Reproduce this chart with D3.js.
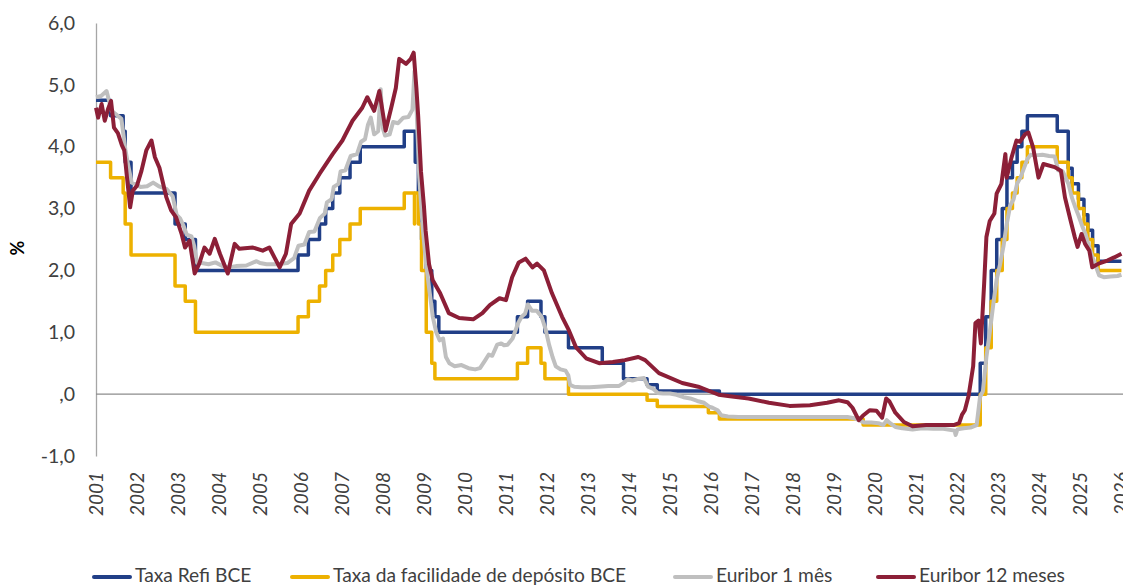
<!DOCTYPE html>
<html><head><meta charset="utf-8">
<script src="https://cdn.jsdelivr.net/npm/d3@7"></script>
<style>
body{margin:0;background:#fff}
svg{display:block}
text{font-family:Lato,"Open Sans","DejaVu Sans",sans-serif}
</style>
</head><body>
<svg id="chart" width="1123" height="587"></svg>
<script>
// ---------- DATA ----------
const yearTicks = d3.range(2001, 2027);
const yTicks = [-1, 0, 1, 2, 3, 4, 5, 6];
const seriesNames = ["Taxa Refi BCE", "Taxa da facilidade de depósito BCE", "Euribor 1 mês", "Euribor 12 meses"];
const seriesColors = ["#213F87", "#EDB100", "#BFBFBF", "#8C1F37"];

// ECB main refinancing rate (change dates, new level)
const refiSteps = [
 ["2001-01-01",4.75],["2001-05-11",4.50],["2001-08-31",4.25],["2001-09-18",3.75],["2001-11-09",3.25],
 ["2002-12-06",2.75],["2003-03-07",2.50],["2003-06-06",2.00],["2005-12-06",2.25],["2006-03-08",2.50],
 ["2006-06-15",2.75],["2006-08-09",3.00],["2006-10-11",3.25],["2006-12-13",3.50],["2007-03-14",3.75],
 ["2007-06-13",4.00],["2008-07-09",4.25],["2008-10-15",3.75],["2008-11-12",3.25],["2008-12-10",2.50],
 ["2009-01-21",2.00],["2009-03-11",1.50],["2009-04-08",1.25],["2009-05-13",1.00],["2011-04-13",1.25],
 ["2011-07-13",1.50],["2011-11-09",1.25],["2011-12-14",1.00],["2012-07-11",0.75],["2013-05-08",0.50],
 ["2013-11-13",0.25],["2014-06-11",0.15],["2014-09-10",0.05],["2016-03-16",0.00],["2022-07-27",0.50],
 ["2022-09-14",1.25],["2022-11-02",2.00],["2022-12-21",2.50],["2023-02-08",3.00],["2023-03-22",3.50],
 ["2023-05-10",3.75],["2023-06-21",4.00],["2023-08-02",4.25],["2023-09-20",4.50],["2024-06-12",4.25],
 ["2024-09-18",3.65],["2024-10-23",3.40],["2024-12-18",3.15],["2025-02-05",2.90],["2025-03-12",2.65],
 ["2025-04-23",2.40],["2025-06-11",2.15],["2026-01-05",2.15]
];

// ECB deposit facility rate (change dates, new level)
const depoSteps = [
 ["2001-01-01",3.75],["2001-05-11",3.50],["2001-08-31",3.25],["2001-09-18",2.75],["2001-11-09",2.25],
 ["2002-12-06",1.75],["2003-03-07",1.50],["2003-06-06",1.00],["2005-12-06",1.25],["2006-03-08",1.50],
 ["2006-06-15",1.75],["2006-08-09",2.00],["2006-10-11",2.25],["2006-12-13",2.50],["2007-03-14",2.75],
 ["2007-06-13",3.00],["2008-07-09",3.25],["2008-10-08",2.75],["2008-10-09",3.25],["2008-11-12",2.75],
 ["2008-12-10",2.00],["2009-01-21",1.00],["2009-03-11",0.50],["2009-04-08",0.25],["2011-04-13",0.50],
 ["2011-07-13",0.75],["2011-11-09",0.50],["2011-12-14",0.25],["2012-07-11",0.00],["2014-06-11",-0.10],
 ["2014-09-10",-0.20],["2015-12-09",-0.30],["2016-03-16",-0.40],["2019-09-18",-0.50],["2022-07-27",0.00],
 ["2022-09-14",0.75],["2022-11-02",1.50],["2022-12-21",2.00],["2023-02-08",2.50],["2023-03-22",3.00],
 ["2023-05-10",3.25],["2023-06-21",3.50],["2023-08-02",3.75],["2023-09-20",4.00],["2024-06-12",3.75],
 ["2024-09-18",3.50],["2024-10-23",3.25],["2024-12-18",3.00],["2025-02-05",2.75],["2025-03-12",2.50],
 ["2025-04-23",2.25],["2025-06-11",2.00],["2026-01-05",2.00]
];

// Euribor 1 month
const euribor1m = [
 ["2001-01-01",4.80],["2001-02-15",4.82],["2001-04-05",4.90],["2001-05-20",4.58],["2001-07-01",4.52],
 ["2001-08-15",4.45],["2001-09-20",3.95],["2001-10-15",3.70],["2001-11-15",3.42],["2001-12-15",3.40],
 ["2002-02-01",3.35],["2002-04-01",3.36],["2002-05-25",3.42],["2002-07-15",3.36],["2002-09-20",3.32],
 ["2002-11-15",3.20],["2002-12-20",2.90],["2003-01-20",2.84],["2003-02-20",2.72],["2003-03-20",2.58],
 ["2003-05-01",2.55],["2003-05-25",2.40],["2003-06-20",2.12],["2003-08-01",2.12],["2003-10-01",2.10],
 ["2003-12-01",2.13],["2004-02-01",2.07],["2004-04-01",2.05],["2004-06-01",2.07],["2004-09-01",2.08],
 ["2004-12-01",2.15],["2005-01-01",2.12],["2005-03-01",2.10],["2005-06-01",2.10],["2005-09-01",2.12],
 ["2005-11-01",2.20],["2005-12-10",2.40],["2006-02-01",2.42],["2006-03-15",2.62],["2006-05-01",2.63],
 ["2006-06-20",2.85],["2006-08-01",2.92],["2006-08-20",3.10],["2006-10-01",3.15],["2006-10-20",3.35],
 ["2006-12-01",3.40],["2006-12-20",3.60],["2007-02-01",3.62],["2007-03-20",3.85],["2007-05-15",3.88],
 ["2007-06-20",4.08],["2007-07-25",4.12],["2007-08-20",4.35],["2007-09-15",4.47],["2007-10-15",4.20],
 ["2007-11-20",4.25],["2007-12-12",4.93],["2007-12-31",4.30],["2008-01-20",4.18],["2008-03-01",4.20],
 ["2008-04-01",4.40],["2008-05-15",4.38],["2008-07-01",4.47],["2008-08-15",4.48],["2008-09-20",4.60],
 ["2008-10-08",5.22],["2008-10-25",4.70],["2008-11-20",3.50],["2008-12-20",2.70],["2009-01-20",2.10],
 ["2009-02-20",1.65],["2009-03-20",1.25],["2009-04-20",1.00],["2009-05-20",0.87],["2009-06-20",0.90],
 ["2009-07-15",0.60],["2009-08-15",0.50],["2009-10-01",0.45],["2009-12-01",0.47],["2010-02-01",0.42],
 ["2010-04-01",0.40],["2010-05-15",0.42],["2010-07-01",0.55],["2010-08-01",0.64],["2010-09-01",0.62],
 ["2010-10-15",0.80],["2010-11-20",0.82],["2010-12-15",0.79],["2011-01-15",0.80],["2011-03-01",0.90],
 ["2011-04-20",1.15],["2011-05-20",1.25],["2011-06-20",1.30],["2011-07-15",1.45],["2011-08-20",1.35],
 ["2011-10-01",1.35],["2011-11-15",1.25],["2011-12-20",1.05],["2012-01-20",0.80],["2012-02-20",0.60],
 ["2012-03-20",0.45],["2012-05-01",0.40],["2012-06-15",0.38],["2012-07-10",0.30],["2012-07-25",0.15],
 ["2012-09-01",0.12],["2012-11-01",0.11],["2013-01-15",0.11],["2013-04-01",0.12],["2013-07-01",0.13],
 ["2013-10-01",0.13],["2013-11-15",0.18],["2013-12-20",0.24],["2014-02-01",0.22],["2014-04-01",0.25],
 ["2014-05-15",0.26],["2014-06-20",0.12],["2014-08-01",0.09],["2014-09-15",0.02],["2014-11-01",0.01],
 ["2015-01-01",0.01],["2015-03-01",-0.01],["2015-05-01",-0.05],["2015-07-01",-0.07],["2015-09-01",-0.11],
 ["2015-11-01",-0.14],["2015-12-15",-0.20],["2016-01-15",-0.22],["2016-03-01",-0.26],["2016-04-01",-0.34],
 ["2016-06-01",-0.36],["2016-09-01",-0.37],["2017-06-01",-0.37],["2018-06-01",-0.37],["2019-05-01",-0.37],
 ["2019-07-01",-0.39],["2019-08-15",-0.42],["2019-09-25",-0.46],["2019-12-01",-0.46],["2020-02-01",-0.47],
 ["2020-03-15",-0.50],["2020-04-15",-0.42],["2020-05-15",-0.47],["2020-07-01",-0.53],["2020-09-01",-0.55],
 ["2020-12-01",-0.57],["2021-03-01",-0.55],["2021-06-01",-0.56],["2021-09-01",-0.56],["2021-12-10",-0.59],
 ["2021-12-20",-0.66],["2022-01-05",-0.57],["2022-03-01",-0.55],["2022-05-01",-0.54],["2022-06-25",-0.50],
 ["2022-07-25",-0.05],["2022-08-20",0.05],["2022-09-20",0.60],["2022-10-20",1.00],["2022-11-20",1.45],
 ["2022-12-20",1.85],["2023-01-20",2.10],["2023-02-20",2.40],["2023-03-20",2.75],["2023-04-20",3.05],
 ["2023-05-20",3.15],["2023-06-20",3.40],["2023-07-20",3.50],["2023-08-20",3.65],["2023-09-20",3.80],
 ["2023-10-20",3.87],["2023-12-01",3.86],["2024-02-01",3.87],["2024-04-01",3.85],["2024-05-20",3.84],
 ["2024-06-20",3.62],["2024-08-01",3.60],["2024-09-20",3.40],["2024-10-20",3.18],["2024-11-20",3.02],
 ["2024-12-20",2.88],["2025-01-20",2.72],["2025-02-20",2.58],["2025-03-20",2.40],["2025-04-20",2.22],
 ["2025-05-20",2.08],["2025-06-20",1.92],["2025-08-01",1.89],["2025-10-01",1.90],["2025-12-01",1.91],
 ["2026-01-05",1.93]
];

// Euribor 12 months
const euribor12m = [
 ["2001-01-01",4.63],["2001-01-20",4.47],["2001-02-20",4.69],["2001-03-20",4.42],["2001-04-20",4.62],
 ["2001-05-15",4.74],["2001-06-10",4.31],["2001-07-15",4.22],["2001-08-20",4.02],["2001-09-10",3.94],
 ["2001-10-01",3.56],["2001-11-01",3.02],["2001-11-25",3.29],["2002-01-01",3.37],["2002-02-10",3.61],
 ["2002-03-25",3.94],["2002-05-10",4.10],["2002-06-10",3.83],["2002-07-20",3.66],["2002-09-20",3.18],
 ["2002-11-01",2.97],["2002-12-15",2.86],["2003-02-01",2.60],["2003-03-05",2.37],["2003-04-15",2.48],
 ["2003-05-30",1.95],["2003-07-10",2.11],["2003-08-25",2.37],["2003-10-10",2.27],["2003-11-25",2.51],
 ["2004-01-10",2.27],["2004-03-20",1.95],["2004-05-20",2.43],["2004-07-01",2.35],["2004-10-30",2.37],
 ["2005-01-25",2.32],["2005-03-25",2.37],["2005-06-25",2.05],["2005-08-20",2.27],["2005-10-05",2.75],
 ["2005-12-20",2.92],["2006-03-15",3.29],["2006-06-15",3.56],["2006-10-10",3.88],["2007-01-05",4.10],
 ["2007-04-05",4.42],["2007-07-01",4.63],["2007-08-15",4.80],["2007-10-15",4.58],["2007-11-30",4.90],
 ["2008-01-25",4.26],["2008-03-15",4.63],["2008-04-25",4.95],["2008-05-25",5.42],["2008-07-25",5.34],
 ["2008-09-05",5.42],["2008-10-01",5.52],["2008-10-25",4.95],["2008-11-10",4.50],["2008-12-05",3.60],
 ["2008-12-31",3.05],["2009-01-15",2.65],["2009-02-15",2.10],["2009-03-20",1.84],["2009-05-25",1.63],
 ["2009-08-10",1.31],["2009-11-10",1.23],["2010-03-15",1.21],["2010-06-05",1.31],["2010-08-10",1.44],
 ["2010-11-05",1.55],["2011-01-01",1.52],["2011-02-25",1.89],["2011-04-25",2.13],["2011-06-25",2.19],
 ["2011-08-25",2.05],["2011-10-05",2.11],["2011-12-05",2.00],["2012-02-15",1.63],["2012-05-15",1.25],
 ["2012-07-15",1.03],["2012-09-15",0.76],["2012-12-15",0.58],["2013-04-10",0.50],["2013-08-10",0.52],
 ["2013-11-25",0.55],["2014-03-25",0.60],["2014-05-25",0.55],["2014-09-25",0.34],["2015-04-20",0.18],
 ["2015-09-10",0.12],["2016-03-10",-0.01],["2016-06-01",-0.03],["2016-12-01",-0.07],["2017-06-01",-0.14],
 ["2017-12-01",-0.19],["2018-06-01",-0.18],["2018-11-01",-0.14],["2019-02-15",-0.10],["2019-05-01",-0.13],
 ["2019-06-15",-0.22],["2019-08-10",-0.42],["2019-09-15",-0.35],["2019-11-15",-0.26],["2020-01-15",-0.27],
 ["2020-03-05",-0.38],["2020-04-10",-0.07],["2020-05-10",-0.12],["2020-07-01",-0.30],["2020-09-15",-0.45],
 ["2020-12-01",-0.52],["2021-04-01",-0.50],["2021-08-01",-0.50],["2021-12-01",-0.50],["2022-01-20",-0.47],
 ["2022-02-15",-0.33],["2022-03-12",-0.26],["2022-04-15",-0.02],["2022-05-25",0.45],["2022-06-14",1.15],
 ["2022-07-12",1.19],["2022-08-02",0.82],["2022-08-31",1.79],["2022-09-20",2.54],["2022-10-20",2.80],
 ["2022-11-30",2.92],["2022-12-20",3.24],["2023-02-01",3.40],["2023-03-08",3.88],["2023-03-20",3.50],
 ["2023-05-01",3.82],["2023-06-15",4.10],["2023-07-15",4.08],["2023-08-30",4.20],["2023-09-29",4.23],
 ["2023-11-10",3.99],["2023-12-28",3.50],["2024-02-10",3.72],["2024-05-20",3.67],["2024-07-15",3.61],
 ["2024-08-20",3.18],["2024-10-10",2.80],["2024-11-15",2.54],["2024-12-10",2.38],["2025-01-15",2.59],
 ["2025-02-15",2.43],["2025-03-25",2.32],["2025-04-20",2.05],["2025-06-15",2.11],["2025-09-01",2.16],
 ["2025-11-01",2.21],["2026-01-05",2.27]
];

// ---------- CHART ----------
const parse = d3.timeParse("%Y-%m-%d");
const toPts = arr => arr.map(([d, v]) => ({date: parse(d), v}));
const allSeries = [
  {pts: toPts(refiSteps), step: true, w: 3.5},
  {pts: toPts(depoSteps), step: true, w: 3.5},
  {pts: toPts(euribor1m), step: false, w: 4},
  {pts: toPts(euribor12m), step: false, w: 4}
];

const svg = d3.select("#chart");
const x = d3.scaleTime()
  .domain([new Date(yearTicks[0], 0, 1), new Date(yearTicks[yearTicks.length - 1], 0, 1)])
  .range([96, 1121]);
const y = d3.scaleLinear().domain([-1, 6]).range([456, 23]);

const fmt = v => v === 0 ? ",0" : d3.format(".1f")(v).replace(".", ",").replace("\u2212", "-");

// y axis
const gy = svg.append("g").attr("transform", "translate(96,0)")
  .call(d3.axisLeft(y).tickValues(yTicks).tickSize(0).tickSizeOuter(0).tickPadding(21).tickFormat(fmt));
gy.select(".domain").attr("stroke", "#A6A6A6").attr("stroke-width", 1.3);
gy.selectAll("text").attr("fill", "#404040").style("font-size", "19.5px");

// zero line (category axis line)
const g0 = svg.append("g").attr("transform", `translate(0,${y(0)})`)
  .call(d3.axisBottom(x).tickValues([]).tickSizeOuter(0));
g0.select(".domain").attr("stroke", "#8C8C8C").attr("stroke-width", 1.3)
  .attr("d", `M96,0H1123`);

// x tick labels at low position
const gx = svg.append("g").attr("transform", `translate(0,${y(-1)})`)
  .call(d3.axisBottom(x).tickValues(yearTicks.map(yr => new Date(yr, 0, 1))).tickSize(0)
        .tickFormat(d3.timeFormat("%Y")));
gx.select(".domain").remove();
gx.selectAll("text")
  .attr("transform", "rotate(-90)")
  .attr("text-anchor", "end")
  .attr("x", -16).attr("y", 0).attr("dy", "0.36em")
  .attr("fill", "#404040")
  .style("font-size", "19px").style("font-style", "italic");

// y title
svg.append("text").attr("transform", "translate(24,248) rotate(-90)")
  .attr("text-anchor", "middle").style("font-size", "18px").style("font-weight", "bold")
  .attr("fill", "#000").text("%");

// lines
allSeries.forEach((s, i) => {
  const line = d3.line().x(d => x(d.date)).y(d => y(d.v))
    .curve(s.step ? d3.curveStepAfter : d3.curveLinear);
  svg.append("path").datum(s.pts)
    .attr("fill", "none").attr("stroke", seriesColors[i])
    .attr("stroke-width", s.w).attr("stroke-linejoin", "round")
    .attr("d", line);
});

// legend
const legendX = [92, 290, 673, 876];
const lg = svg.append("g");
seriesNames.forEach((name, i) => {
  lg.append("line").attr("x1", legendX[i] + 2).attr("x2", legendX[i] + 38)
    .attr("y1", 577).attr("y2", 577)
    .attr("stroke", seriesColors[i]).attr("stroke-width", 4).attr("stroke-linecap", "round");
  lg.append("text").attr("x", legendX[i] + 43).attr("y", 582)
    .attr("fill", "#404040").style("font-size", "19.2px").text(name);
});
</script>
</body></html>
